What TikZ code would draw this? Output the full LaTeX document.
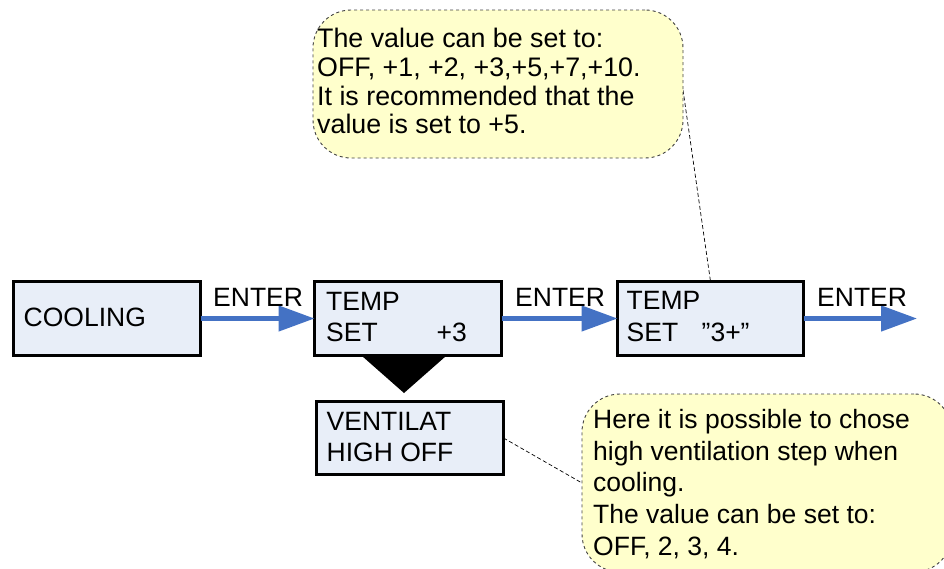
\documentclass[tikz,border=0pt]{standalone}
\usepackage{fontspec}
\setmainfont{Liberation Sans}
\usetikzlibrary{arrows.meta}
\definecolor{boxfill}{HTML}{E8EEF8}
\definecolor{arrowblue}{HTML}{4472C4}
\definecolor{notefill}{HTML}{FFFFCC}
\definecolor{noteedge}{HTML}{404040}
\begin{document}
\begin{tikzpicture}[x=1pt,y=-1pt,
  screen/.style={draw=black,line width=3pt,fill=boxfill,inner sep=0pt,outer sep=0pt,minimum height=74pt},
  txt/.style={anchor=base west,inner sep=0pt,font=\fontsize{26.5}{31.7}\selectfont},
  txtr/.style={anchor=base east,inner sep=0pt,font=\fontsize{26.5}{31.7}\selectfont},
  notea/.style={anchor=base west,inner sep=0pt,font=\fontsize{26.8}{29}\selectfont},
  note/.style={draw=noteedge,dashed,line width=0.9pt,fill=notefill,rounded corners=38pt,inner sep=0pt,outer sep=0pt},
  flow/.style={draw=arrowblue,line width=4.5pt,-{Triangle[length=36pt,width=25pt]}},
  leader/.style={draw=black,line width=0.7pt,dash pattern=on 4pt off 2.5pt}]
\useasboundingbox (0,0) rectangle (944,568);
\clip (0,0) rectangle (944,568);

% screens
\node[screen,minimum width=187pt] (cool)  at (107,318.5) {};
\node[screen,minimum width=187pt] (temp1) at (408,318.5) {};
\node[screen,minimum width=186pt] (temp2) at (710.5,318.5) {};
\node[screen,minimum width=187pt,minimum height=73pt] (vent) at (410,438) {};

% texts in screens
\node[txt] (tcool) at (23.5,326.7) {COOLING};
\node[txt] (t1a) at (326,310) {TEMP};
\node[txt] (t1b) at (326,341.7) {SET};
\node[txtr] (t1c) at (467,341.7) {+3};
\node[txt] (t2a) at (626.5,309) {TEMP};
\node[txt] (t2b) at (626.5,341.7) {SET};
\node[txt] (t2c) at (701.5,341.7) {”3+”};
\node[txt] (tva) at (326.5,430) {VENTILAT};
\node[txt] (tvb) at (326.5,461.7) {HIGH OFF};

% black triangle under TEMP SET +3
\fill[black] (362,356) -- (446,356) -- (404,393) -- cycle;

% flow arrows
\coordinate (outend) at (917,318.5);
\draw[flow] (cool.east) -- (temp1.west);
\draw[flow] (temp1.east) -- (temp2.west);
\draw[flow] (temp2.east) -- (outend);
\node[txt] (e1) at (213,306.5) {ENTER};
\node[txt] (e2) at (515,306.5) {ENTER};
\node[txt] (e3) at (817,306.5) {ENTER};

% callout 1
\coordinate (c1tail) at (683,90);
\draw[leader] (c1tail) -- (temp2.north);
\node[note,minimum width=370pt,minimum height=148pt] (call1) at (498,84) {};
\node[notea] (n1a) at (317,47.3) {The value can be set to:};
\node[notea] (n1b) at (317,76.2) {OFF, +1, +2, +3,+5,+7,+10.};
\node[notea] (n1c) at (317,105) {It is recommended that the};
\node[notea] (n1d) at (317,133.5) {value is set to +5.};

% callout 2
\coordinate (c2tail) at (582,483);
\draw[leader] (vent.east) -- (c2tail);
\node[note,minimum width=370pt,minimum height=178pt] (call2) at (767,483) {};
\node[txt] (n2a) at (593,428.3) {Here it is possible to chose};
\node[txt] (n2b) at (593,460) {high ventilation step when};
\node[txt] (n2c) at (593,491.6) {cooling.};
\node[txt] (n2d) at (593,523.2) {The value can be set to:};
\node[txt] (n2e) at (593,555) {OFF, 2, 3, 4.};
\end{tikzpicture}
\end{document}
